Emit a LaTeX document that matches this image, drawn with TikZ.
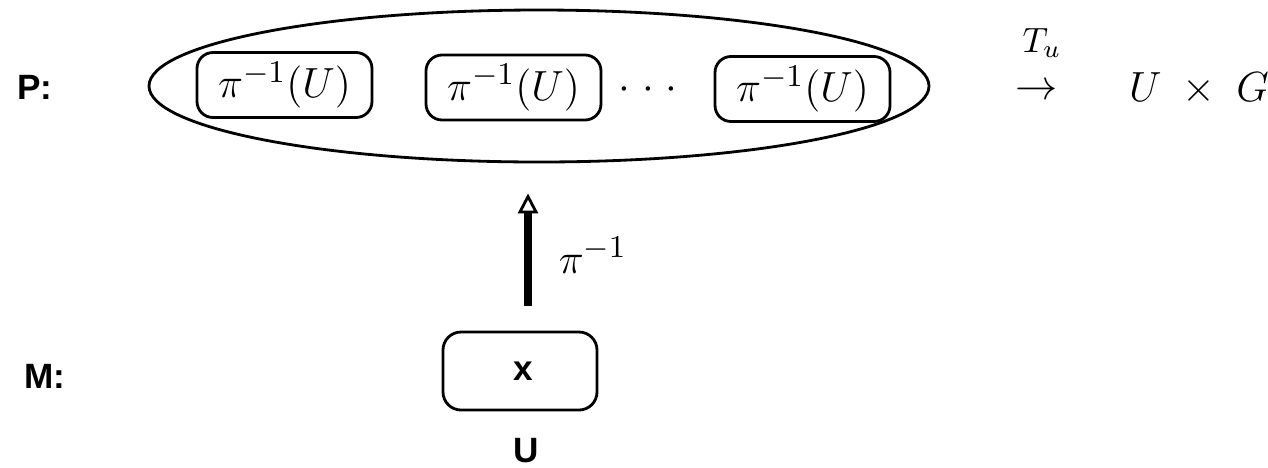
\documentclass[tikz,border=0pt]{standalone}
\usepackage{fontspec}
\newfontfamily\labelfont{Liberation Sans}
\usetikzlibrary{shapes.geometric,arrows.meta}

\begin{document}
\begin{tikzpicture}[
    mathtext/.style={font=\fontsize{13}{16}\selectfont},
    sidelabel/.style={font=\labelfont\bfseries\fontsize{10}{12}\selectfont},
    preimg/.style={draw, thick, rounded corners=0.16cm, minimum width=1.75cm,
                   minimum height=0.65cm, inner sep=0pt, mathtext},
    liftarrow/.style={line width=2.3pt,
                      -{Triangle[open, length=0.2cm, width=0.2cm, line width=0.8pt]}}
  ]
    \useasboundingbox (0,0) rectangle (12.68,-4.67);

    % Labels of the two levels
    \node[sidelabel] (plabel) at (0.35,-0.87) {P:};
    \node[sidelabel] (mlabel) at (0.45,-3.76) {M:};

    % Fibre over U
    \node[draw, thick, ellipse, minimum width=7.8cm, minimum height=1.52cm] (fibre) at (5.39,-0.86) {};
    \node[preimg] (preimg1) at (2.845,-0.85) {$\pi^{-1}(U)$};
    \node[preimg] (preimg2) at (5.135,-0.875) {$\pi^{-1}(U)$};
    \node[preimg] (preimg3) at (8.025,-0.89) {$\pi^{-1}(U)$};
    \node[mathtext] (dots) at (6.48,-0.90)
        {$\mathord{\cdot}\mkern5mu\mathord{\cdot}\mkern5mu\mathord{\cdot}$};

    % Local trivialisation
    \node[inner sep=1pt] (Tu) at (10.42,-0.43) {$T_u$};
    \node[mathtext, inner sep=1pt] (mapto) at (10.37,-0.92) {$\rightarrow$};
    \node[mathtext] (UG) at (11.99,-0.89) {$U \;\times\; G$};

    % Base
    \node[draw, thick, rounded corners=0.18cm, minimum width=1.54cm, minimum height=0.78cm]
        (ptbox) at (5.20,-3.71) {\labelfont\bfseries\fontsize{10}{12}\selectfont\hspace{0.07cm}x};
    \node[sidelabel, inner sep=1pt] (ulabel) at (5.26,-4.51) {U};

    % Inverse image
    \draw[liftarrow, shorten <=0.25cm, shorten >=0.30cm]
        ([xshift=0.08cm]ptbox.north) -- ([xshift=0.08cm]ptbox.north |- fibre.south)
        node[pos=0.45, right=0.15cm, mathtext] (arrowlabel) {$\pi^{-1}$};
\end{tikzpicture}
\end{document}
